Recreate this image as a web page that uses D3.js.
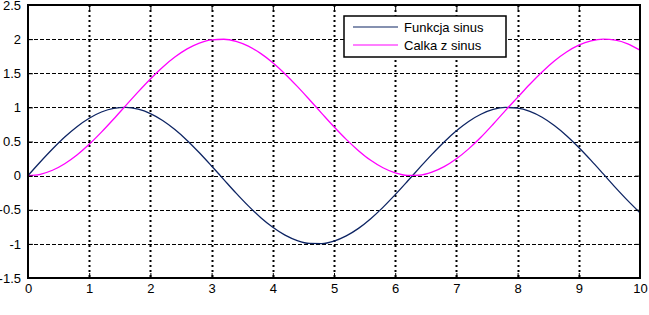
<!DOCTYPE html>
<html>
  <head>
    <meta charset="utf-8">
    <style>
      body { margin: 0; background: #fff; }
      text { font-family: "Liberation Sans", Arial, sans-serif; }
    </style>
  </head>
  <body>
    <script src="https://d3js.org/d3.v7.min.js"></script>
    <script>
      // sample positions (step 0.2)
      var xValues = [0, 0.2, 0.4, 0.6, 0.8, 1, 1.2, 1.4, 1.6, 1.8, 2, 2.2, 2.4, 2.6, 2.8, 3, 3.2, 3.4, 3.6, 3.8,
        4, 4.2, 4.4, 4.6, 4.8, 5, 5.2, 5.4, 5.6, 5.8, 6, 6.2, 6.4, 6.6, 6.8, 7, 7.2, 7.4, 7.6, 7.8,
        8, 8.2, 8.4, 8.6, 8.8, 9, 9.2, 9.4, 9.6, 9.8, 10];

      var sinusValues = [0, 0.199, 0.389, 0.565, 0.717, 0.841, 0.932, 0.985, 1.000, 0.974, 0.909, 0.808, 0.675, 0.516, 0.335, 0.141,
        -0.058, -0.256, -0.443, -0.612, -0.757, -0.872, -0.952, -0.994, -0.996, -0.959, -0.883, -0.773, -0.631, -0.465, -0.279,
        -0.083, 0.117, 0.312, 0.494, 0.657, 0.794, 0.899, 0.969, 0.999, 0.989, 0.941, 0.855, 0.734, 0.585, 0.412, 0.223,
        0.025, -0.175, -0.366, -0.544];

      var calkaValues = [0, 0.020, 0.079, 0.175, 0.303, 0.460, 0.638, 0.830, 1.029, 1.227, 1.416, 1.589, 1.737, 1.857, 1.942, 1.990,
        1.998, 1.967, 1.897, 1.791, 1.654, 1.490, 1.307, 1.112, 0.913, 0.716, 0.531, 0.366, 0.224, 0.115, 0.040,
        0.003, 0.007, 0.050, 0.131, 0.246, 0.392, 0.562, 0.753, 0.953, 1.146, 1.339, 1.519, 1.679, 1.811, 1.911, 1.975,
        2.000, 1.985, 1.931, 1.839];

      var xTicks = [0, 1, 2, 3, 4, 5, 6, 7, 8, 9, 10];
      var yTicks = [-1.5, -1, -0.5, 0, 0.5, 1, 1.5, 2, 2.5];
      var seriesNames = ['Funkcja sinus', 'Calka z sinus'];

      (function() {
        var W = 649, H = 315;
        var LEFT = 28, RIGHT = 640, TOP = 5, BOTTOM = 278;

        var colors = {
          SIN: '#0d2463',
          CALKA: '#ff00ff'
        };

        var svg = d3.select('body').append('svg')
          .attr('width', W)
          .attr('height', H);

        var x = d3.scaleLinear().domain([0, 10]).range([LEFT, RIGHT]);
        var y = d3.scaleLinear().domain([-1.5, 2.5]).range([BOTTOM, TOP]);

        // grid lines
        svg.append('g').selectAll('line')
          .data(xTicks.slice(1, -1))
          .enter().append('line')
          .attr('x1', function(d) { return Math.round(x(d)) + 0.5; })
          .attr('x2', function(d) { return Math.round(x(d)) + 0.5; })
          .attr('y1', TOP).attr('y2', BOTTOM)
          .attr('stroke', '#000')
          .attr('stroke-width', 2)
          .attr('stroke-dasharray', '2,3');

        svg.append('g').selectAll('line')
          .data(yTicks.slice(1, -1))
          .enter().append('line')
          .attr('y1', function(d) { return Math.round(y(d)) + 0.5; })
          .attr('y2', function(d) { return Math.round(y(d)) + 0.5; })
          .attr('x1', LEFT).attr('x2', RIGHT)
          .attr('stroke', '#000')
          .attr('stroke-width', 1)
          .attr('stroke-dasharray', '4,2');

        // curves
        var line = d3.line()
          .x(function(d) { return x(d[0]); })
          .y(function(d) { return y(d[1]); })
          .curve(d3.curveMonotoneX);

        svg.append('path')
          .datum(d3.zip(xValues, sinusValues))
          .attr('fill', 'none')
          .attr('stroke', colors.SIN)
          .attr('stroke-width', 1.3)
          .attr('d', line);

        svg.append('path')
          .datum(d3.zip(xValues, calkaValues))
          .attr('fill', 'none')
          .attr('stroke', colors.CALKA)
          .attr('stroke-width', 1.3)
          .attr('d', line);

        // axes
        var gx = svg.append('g')
          .attr('transform', 'translate(0,' + BOTTOM + ')')
          .call(d3.axisBottom(x).tickValues(xTicks).tickSize(-5).tickPadding(8)
            .tickFormat(d3.format('d')));

        var gy = svg.append('g')
          .attr('transform', 'translate(' + LEFT + ',0)')
          .call(d3.axisLeft(y).tickValues(yTicks).tickSize(-5).tickPadding(7)
            .tickFormat(function(d) { return String(d); }));

        var gyr = svg.append('g')
          .attr('transform', 'translate(' + RIGHT + ',0)')
          .call(d3.axisRight(y).tickValues(yTicks).tickSize(-5).tickFormat(''));
        var gxt = svg.append('g')
          .attr('transform', 'translate(0,' + TOP + ')')
          .call(d3.axisTop(x).tickValues(xTicks).tickSize(-5).tickFormat(''));

        [gx, gy, gyr, gxt].forEach(function(g) {
          g.select('.domain').remove();
          g.selectAll('line').attr('stroke', '#000').attr('stroke-width', 1);
          g.selectAll('text').attr('font-size', 13).attr('fill', '#000')
            .style('font-family', '"Liberation Sans", Arial, sans-serif');
        });
        gx.selectAll('text').attr('dy', '0.55em');

        // box
        svg.append('rect')
          .attr('x', LEFT).attr('y', TOP)
          .attr('width', RIGHT - LEFT).attr('height', BOTTOM - TOP)
          .attr('fill', 'none')
          .attr('stroke', '#000')
          .attr('stroke-width', 2);

        // legend
        var legend = svg.append('g').attr('transform', 'translate(344,16)');
        legend.append('rect')
          .attr('width', 162).attr('height', 41)
          .attr('fill', '#fff')
          .attr('stroke', '#000')
          .attr('stroke-width', 1.5);

        legend.selectAll('.item')
          .data(seriesNames)
          .enter().append('g')
          .attr('class', 'item')
          .attr('transform', function(d, i) { return 'translate(0,' + (11 + i * 18) + ')'; })
          .each(function(d, i) {
            var g = d3.select(this);
            g.append('line')
              .attr('x1', 9).attr('x2', 54)
              .attr('stroke', i === 0 ? colors.SIN : colors.CALKA)
              .attr('stroke-width', 1.2);
            g.append('text')
              .attr('x', 60).attr('dy', '0.35em')
              .attr('font-size', 13)
              .text(d);
          });
      })();
    </script>
  </body>
</html>
